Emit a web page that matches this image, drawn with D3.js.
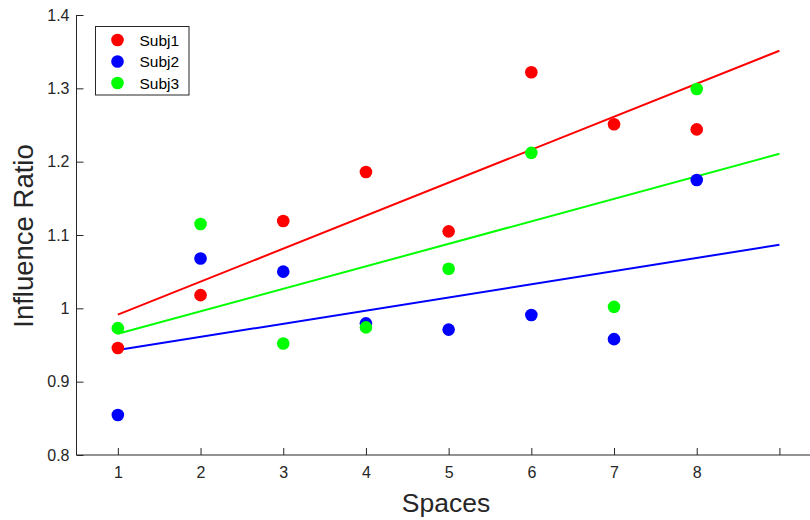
<!DOCTYPE html>
<html>
<head>
<meta charset="utf-8">
<script src="https://cdn.jsdelivr.net/npm/d3@7"></script>
<style>
  body { margin: 0; background: #fff; }
  svg { font-family: "Liberation Sans", Arial, sans-serif; }
</style>
</head>
<body>
<div id="chart"></div>
<script>
// data
var spaces = [1, 2, 3, 4, 5, 6, 7, 8];
var subj1 = [0.946, 1.018, 1.119, 1.186, 1.105, 1.322, 1.251, 1.244];
var subj2 = [0.8545, 1.068, 1.050, 0.9795, 0.971, 0.991, 0.958, 1.175];
var subj3 = [0.973, 1.115, 0.952, 0.974, 1.054, 1.212, 1.002, 1.299];
var seriesNames = ["Subj1", "Subj2", "Subj3"];
var colors = ["#ff0000", "#0000ff", "#00ff00"];
var xTicks = [1, 2, 3, 4, 5, 6, 7, 8, 9];
var xTickLabels = ["1", "2", "3", "4", "5", "6", "7", "8", ""];
var yTicks = [0.8, 0.9, 1, 1.1, 1.2, 1.3, 1.4];
var fitRange = [1, 9];

var svgWidth = 810, svgHeight = 520;
var axisColor = "#262626";

var svg = d3.select("#chart").append("svg")
    .attr("width", svgWidth)
    .attr("height", svgHeight);

var x = d3.scaleLinear().domain([0.5, 9.4]).range([76.5, 812.5]);
var y = d3.scaleLinear().domain([0.8, 1.4]).range([455, 15]);

// least-squares fit for each subject
function fit(ys) {
    var mx = d3.mean(spaces), my = d3.mean(ys);
    var sxy = d3.sum(spaces, (v, i) => (v - mx) * (ys[i] - my));
    var sxx = d3.sum(spaces, v => (v - mx) * (v - mx));
    var b = sxy / sxx, a = my - b * mx;
    return fitRange.map(v => [v, a + b * v]);
}

var series = [subj1, subj2, subj3];

// axes
var xAxis = svg.append("g")
    .attr("transform", "translate(0,455)")
    .call(d3.axisBottom(x).tickValues(xTicks)
        .tickFormat((d, i) => xTickLabels[i])
        .tickSizeInner(-7).tickSizeOuter(0).tickPadding(12));
var yAxis = svg.append("g")
    .attr("transform", "translate(76.5,0)")
    .call(d3.axisLeft(y).tickValues(yTicks)
        .tickFormat(d3.format("~g"))
        .tickSizeInner(-7).tickSizeOuter(0).tickPadding(7));

[xAxis, yAxis].forEach(function (g) {
    g.select(".domain").attr("stroke", axisColor);
    g.selectAll(".tick line").attr("stroke", axisColor);
    g.selectAll(".tick text")
        .attr("fill", axisColor)
        .attr("font-size", 16)
        .attr("font-family", "Liberation Sans, Arial, sans-serif");
});
yAxis.select(".domain").attr("d", "M0," + y(0.8) + "V" + y(1.4));
xAxis.select(".domain").attr("d", "M" + x(0.5) + ",0H" + svgWidth);

// fit lines
var line = d3.line().x(d => x(d[0])).y(d => y(d[1]));
series.forEach(function (ys, k) {
    svg.append("path")
        .attr("d", line(fit(ys)))
        .attr("fill", "none")
        .attr("stroke", colors[k])
        .attr("stroke-width", 2);
});

// points
series.forEach(function (ys, k) {
    svg.append("g").selectAll("circle")
        .data(ys)
        .enter()
        .append("circle")
        .attr("cx", (d, i) => x(spaces[i]))
        .attr("cy", d => y(d))
        .attr("r", 6.3)
        .attr("fill", colors[k]);
});

// axis labels
svg.append("text")
    .attr("x", 446)
    .attr("y", 512)
    .attr("text-anchor", "middle")
    .attr("font-size", 26.5)
    .attr("fill", axisColor)
    .text("Spaces");

svg.append("text")
    .attr("transform", "translate(33,236) rotate(-90)")
    .attr("text-anchor", "middle")
    .attr("font-size", 27.5)
    .attr("fill", axisColor)
    .text("Influence Ratio");

// legend
var legend = svg.append("g");
legend.append("rect")
    .attr("x", 95.5).attr("y", 26.5)
    .attr("width", 93.5).attr("height", 68.5)
    .attr("fill", "#fff")
    .attr("stroke", axisColor)
    .attr("stroke-width", 1);
seriesNames.forEach(function (name, k) {
    legend.append("circle")
        .attr("cx", 117.5).attr("cy", 40 + k * 21.5)
        .attr("r", 6.3)
        .attr("fill", colors[k]);
    legend.append("text")
        .attr("x", 139.5).attr("y", 40.5 + k * 21.5)
        .attr("dy", "0.35em")
        .attr("font-size", 15.5)
        .attr("fill", "#000")
        .text(name);
});
</script>
</body>
</html>
